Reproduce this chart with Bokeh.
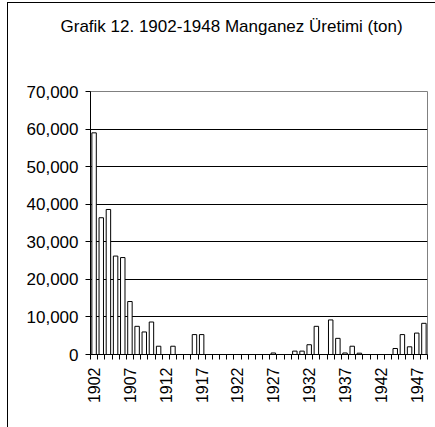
import math
from bokeh.plotting import figure
from bokeh.models import Range1d, FixedTicker, NumeralTickFormatter, ColumnDataSource, Title
from bokeh.embed import file_html
from bokeh.resources import INLINE

# ---- data ----
years = list(range(1902, 1949))
tonnes = [59000, 36400, 38600, 26200, 25800, 14100, 7500, 6000, 8650, 2200,
          0, 2200, 0, 0, 5300, 5300,
          0, 0, 0, 0, 0, 0, 0, 0, 0,
          400, 0, 0,
          900, 900, 2600, 7500, 0, 9200, 4300, 400, 2200, 350,
          0, 0, 0, 0, 1600, 5300, 2050, 5700, 8300]
y_ticks = [0, 10000, 20000, 30000, 40000, 50000, 60000, 70000]
label_years = [1902, 1907, 1912, 1917, 1922, 1927, 1932, 1937, 1942, 1947]
title_text = "Grafik 12. 1902-1948 Manganez Üretimi (ton)"

FONT = "Liberation Sans"

p = figure(width=428, height=425, output_backend="svg", toolbar_location=None,
           x_range=Range1d(years[0] - 0.5, years[-1] + 0.5),
           y_range=Range1d(y_ticks[0], y_ticks[-1]),
           min_border_left=82, min_border_right=9, min_border_top=88,
           min_border_bottom=74)

p.title.text = ""

# white spacer block between the title and the plot frame
p.add_layout(Title(text=".", text_font_size="8px", text_color="white",
                   standoff=44), "above")
p.add_layout(Title(text=title_text, align="left", offset=-30,
                   text_font=FONT, text_font_size="17px",
                   text_font_style="normal", text_color="black"), "above")

p.styles = {"border-left": "1px solid black", "border-top": "1px solid black",
            "box-sizing": "border-box", "margin-left": "7px", "margin-top": "2px"}

p.background_fill_color = "white"
p.border_fill_color = "white"
p.outline_line_color = "#808080"
p.outline_line_width = 1

src = ColumnDataSource(dict(x=years, top=tonnes))
p.vbar(x="x", top="top", width=0.62, bottom=0, source=src,
       fill_color="white", line_color="black", line_width=1)

# y axis
p.yaxis.ticker = FixedTicker(ticks=y_ticks)
p.yaxis.formatter = NumeralTickFormatter(format="0,0")
p.yaxis.major_tick_out = 5
p.yaxis.major_tick_in = 0
p.yaxis.minor_tick_out = 0
p.yaxis.minor_tick_in = 0
p.yaxis.major_label_standoff = 7
p.yaxis.major_label_text_font = FONT
p.yaxis.major_label_text_font_size = "17px"
p.yaxis.major_label_text_color = "black"
p.yaxis.axis_line_color = "black"

# x axis
bounds = [y - 0.5 for y in years] + [years[-1] + 0.5]
p.xaxis.ticker = FixedTicker(ticks=label_years, minor_ticks=bounds)
p.xaxis.major_tick_out = 0
p.xaxis.major_tick_in = 0
p.xaxis.minor_tick_out = 5
p.xaxis.minor_tick_in = 0
p.xaxis.minor_tick_line_color = "black"
p.xaxis.major_label_orientation = math.pi / 2
p.xaxis.major_label_standoff = 8
p.xaxis.major_label_text_font = FONT
p.xaxis.major_label_text_font_size = "16px"
p.xaxis.major_label_text_color = "black"
p.xaxis.axis_line_color = "black"

# grid
p.xgrid.visible = False
p.ygrid.ticker = FixedTicker(ticks=y_ticks[1:-1])
p.ygrid.grid_line_color = "black"
p.ygrid.grid_line_width = 1

open("out.html", "w").write(file_html(p, INLINE))
